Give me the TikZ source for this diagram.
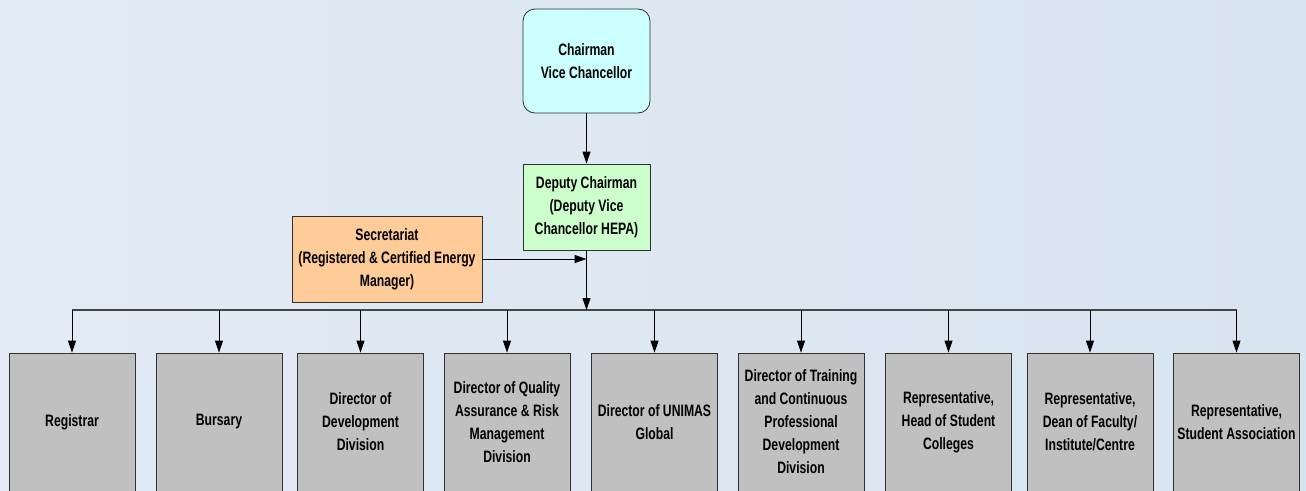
\documentclass[tikz,border=0pt]{standalone}
\usepackage{fontspec}
\setmainfont{Liberation Sans}[FakeStretch=0.74]
\usetikzlibrary{arrows.meta}
\definecolor{bgL}{HTML}{E2EBF5}
\definecolor{bgR}{HTML}{D8E4F0}
\definecolor{cyanbox}{HTML}{CCFFFF}
\definecolor{greenbox}{HTML}{CCFFCC}
\definecolor{peachbox}{HTML}{FFCC99}
\definecolor{greybox}{HTML}{C0C0C0}
\definecolor{edgecol}{HTML}{303030}
\begin{document}
\begin{tikzpicture}[x=1pt,y=-1pt,
  box/.style={draw=edgecol, line width=0.8pt, align=center, inner sep=0pt,
    font=\bfseries\fontsize{16.5}{23}\selectfont},
  topbox/.style={box, fill=cyanbox, rounded corners=12pt, minimum width=127pt, minimum height=104pt},
  depbox/.style={box, fill=greenbox, minimum width=127pt, minimum height=86pt},
  secbox/.style={box, fill=peachbox, minimum width=190pt, minimum height=86pt},
  unitbox/.style={box, fill=greybox, minimum width=126pt, minimum height=138pt},
  arr/.style={draw=black, line width=1pt, -{Triangle[length=12pt,width=8pt]}},
  busline/.style={draw=edgecol!90, line width=1.8pt},
  drop/.style={draw=black, line width=0.8pt, -{Triangle[length=12pt,width=8pt]}}]
\shade[left color=bgL, right color=bgR] (0,0) rectangle (1306,490);
\useasboundingbox (0,0) rectangle (1306,490);

\node[topbox] (chair) at (586.5,61) {Chairman\\Vice Chancellor};
\node[depbox] (dep) at (586.5,207) {Deputy Chairman\\(Deputy Vice\\Chancellor HEPA)};
\node[secbox] (sec) at (387,259) {Secretariat\\(Registered \& Certified Energy\\Manager)};

\node[unitbox] (u1) at (72,422) {Registrar};
\node[unitbox] (u2) at (219,422) {Bursary};
\node[unitbox] (u3) at (360.5,422) {Director of\\Development\\Division};
\node[unitbox] (u4) at (507,422) {Director of Quality\\Assurance \& Risk\\Management\\Division};
\node[unitbox] (u5) at (654.5,422) {Director of UNIMAS\\Global};
\node[unitbox] (u6) at (801,422) {Director of Training\\and Continuous\\Professional\\Development\\Division};
\node[unitbox] (u7) at (948.5,422) {Representative,\\Head of Student\\Colleges};
\node[unitbox] (u8) at (1090,422) {Representative,\\Dean of Faculty/\\Institute/Centre};
\node[unitbox] (u9) at (1236.5,422) {Representative,\\Student Association};

\coordinate (bus) at (586.5,310);
\coordinate (join) at (dep.south |- sec.east);

\draw[arr] (chair) -- (dep);
\draw[arr] (sec.east) -- (join);
\draw[busline] (u1.north |- bus) -- (u9.north |- bus);
\draw[arr] (dep.south) -- (bus);
\foreach \u in {u1,u2,u3,u4,u5,u6,u7,u8,u9}
  \draw[drop] (\u.north |- bus) -- (\u.north);
\end{tikzpicture}
\end{document}
